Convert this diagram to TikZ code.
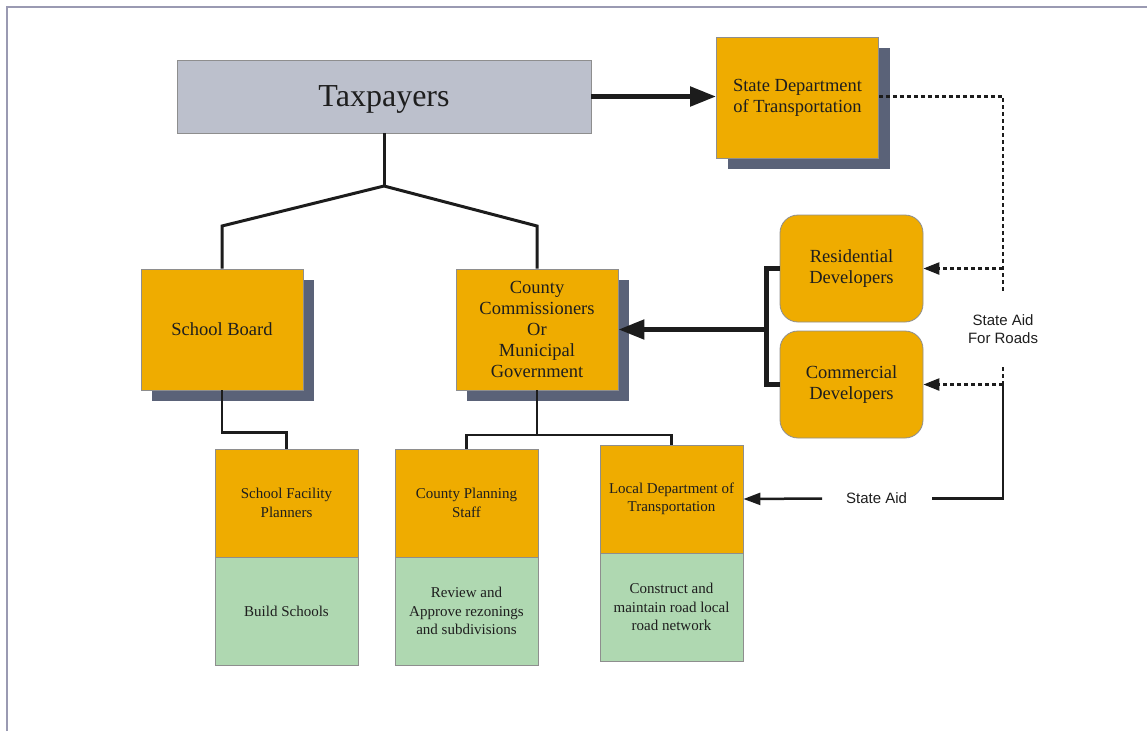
\documentclass[tikz,border=0pt]{standalone}
\usepackage{fontspec}
\setmainfont{Liberation Serif}
\setsansfont{Liberation Sans}
\usetikzlibrary{arrows.meta,shadows}
\definecolor{orangec}{HTML}{EFAC00}
\definecolor{greenc}{HTML}{AFD8B1}
\definecolor{shadowc}{HTML}{5A6278}
\definecolor{taxc}{HTML}{BCC0CC}
\definecolor{borderc}{HTML}{8E8E8E}
\definecolor{framec}{HTML}{9A9AB2}
\definecolor{textc}{HTML}{1E1E1E}
\definecolor{linec}{HTML}{1C1C1C}
\tikzset{
  box/.style={draw=borderc, line width=0.8pt, inner sep=0pt, align=center, text=textc},
  shadowed/.style={drop shadow={shadow xshift=11pt, shadow yshift=-11pt, fill=shadowc, opacity=1}},
  midbox/.style={box, shadowed, fill=orangec, minimum width=162pt, minimum height=121pt,
    font=\fontsize{18.5}{21}\selectfont},
  devbox/.style={box, fill=orangec, rounded corners=18pt, minimum width=143pt, minimum height=107pt,
    font=\fontsize{18.5}{21}\selectfont},
  topbox/.style={box, fill=orangec, minimum width=143pt, minimum height=108pt,
    font=\fontsize{15}{18.5}\selectfont},
  lowbox/.style={box, fill=greenc, minimum width=143pt, minimum height=108pt,
    font=\fontsize{15}{18.5}\selectfont},
  tree/.style={draw=linec, line width=3pt},
  thin tree/.style={draw=linec, line width=2.5pt},
  bigarrow/.style={draw=linec, line width=5pt, -{Triangle[length=26pt,width=19pt]}},
  dotline/.style={draw=linec, line width=2.5pt, dash pattern=on 4pt off 3pt},
  dotarrow/.style={dotline, -{Triangle[length=16pt,width=12pt]}},
  aidarrow/.style={draw=linec, line width=2.5pt, -{Triangle[length=17pt,width=12pt]}},
  lbl/.style={font=\sffamily\fontsize{15}{18}\selectfont, text=textc, align=center, inner sep=0pt}
}
\begin{document}
\begin{tikzpicture}[x=1pt,y=-1pt]
\useasboundingbox (0,0) rectangle (1147,731);
\draw[framec, line width=1.2pt] (7,731) -- (7,7) -- (1147,7);

% nodes
\node[box, fill=taxc, minimum width=414pt, minimum height=73pt, text depth=0pt,
  font=\fontsize{32}{36}\selectfont] (tax) at (384,96.5) {Taxpayers};
\node[midbox] (sdot) at (797.5,97.5) {State Department\\of Transportation};
\node[midbox] (sb) at (222,329.5) {School Board};
\node[midbox] (cc) at (537,329.5) {County\\Commissioners\\Or\\Municipal\\Government};
\node[devbox] (res) at (851.5,268.5) {Residential\\Developers};
\node[devbox] (com) at (851.5,384.5) {Commercial\\Developers};

\node[topbox] (sfp) at (286.5,503) {School Facility\\Planners};
\node[lowbox] (sfpl) at (286.5,611) {Build Schools};
\node[topbox] (cps) at (466.5,503) {County Planning\\Staff};
\node[lowbox] (cpsl) at (466.5,611) {Review and\\Approve rezonings\\and subdivisions};
\node[topbox] (ldot) at (671.5,499) {Local Department of\\Transportation};
\node[lowbox] (ldotl) at (671.5,607) {Construct and\\maintain road local\\road network};

\node[lbl] (sar) at (1003,329) {State Aid\\For Roads};
\node[lbl] (sa) at (876.5,498.5) {State Aid};

% taxpayers tree
\coordinate (fork) at (384,186);
\coordinate (lk) at (222,226);
\coordinate (rk) at (537,226);
\draw[tree] (tax.south) -- (fork);
\draw[tree] (fork) -- (lk) -- (sb.north);
\draw[tree] (fork) -- (rk) -- (cc.north);

% taxpayers -> state DOT
\draw[bigarrow] (tax.east) -- (tax.east -| sdot.west);

% school board -> planners
\draw[thin tree] (sb.south) -- ++(0,42) -| (sfp.north);

% county -> planning, local DOT
\coordinate (cj) at (537,435);
\draw[thin tree] (cc.south) -- (cj);
\draw[thin tree] (cps.north) |- (cj) -| (ldot.north);

% developers bracket -> county
\coordinate (br) at (766,329.5);
\draw[draw=linec, line width=5pt] (res.west) -| (br) |- (com.west);
\draw[bigarrow] (br) -- (cc.east);

% state aid for roads (dotted)
\coordinate (dr) at (1003,96.5);
\coordinate (dres) at (1003,268.5);
\coordinate (dend1) at (1003,292);
\coordinate (dstart2) at (1003,367);
\coordinate (dcom) at (1003,384.5);
\draw[dotline] (sdot.east |- dr) -- (dr) -- (dend1);
\draw[dotarrow] (dres) -- (res.east);
\draw[dotline] (dstart2) -- (dcom);
\draw[dotarrow] (dcom) -- (com.east);

% state aid (solid)
\coordinate (sae) at (932,498.5);
\coordinate (saw) at (822,498.5);
\draw[draw=linec, line width=2.5pt] (dcom) |- (sae);
\draw[aidarrow] (saw) -- (ldot.east);
\end{tikzpicture}
\end{document}
